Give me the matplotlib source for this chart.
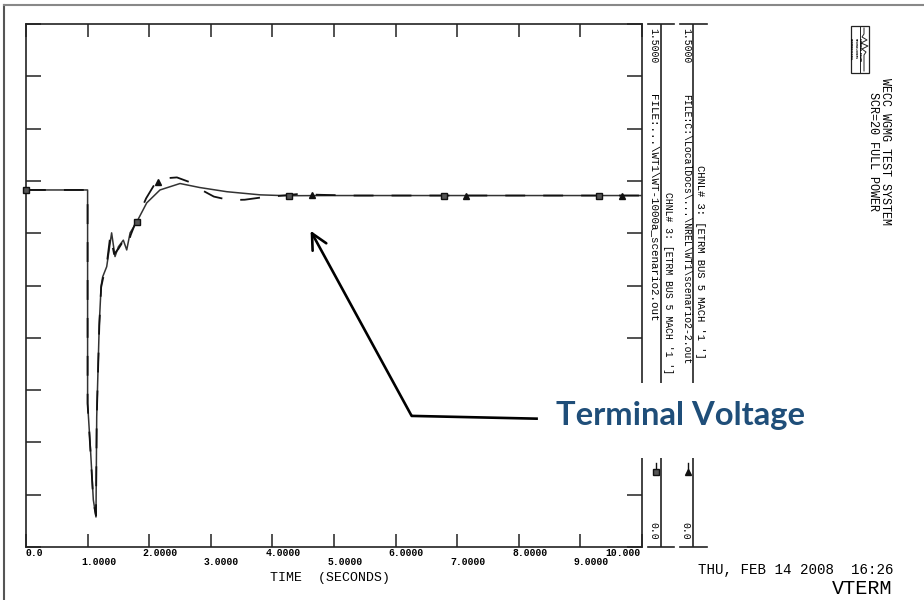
import numpy as np
import matplotlib.pyplot as plt
from matplotlib.lines import Line2D
from matplotlib.patches import Rectangle

## data ##
# solid trace (WT-1000a_scenario2.out), square markers
t_a = [0.0, 1.0, 1.0, 1.05, 1.093, 1.136, 1.148, 1.19, 1.22, 1.245, 1.31, 1.39, 1.445, 1.50,
       1.58, 1.635, 1.69, 1.80, 1.96, 2.175, 2.50, 2.82, 3.26, 3.80, 4.23, 5.0, 6.0, 7.0, 8.0, 9.0, 10.0]
v_a = [1.024, 1.024, 0.413, 0.27, 0.135, 0.086, 0.373, 0.642, 0.75, 0.775, 0.804, 0.901, 0.833, 0.861,
       0.880, 0.852, 0.901, 0.933, 0.987, 1.024, 1.0425, 1.031, 1.019, 1.010, 1.0075, 1.008, 1.008, 1.008, 1.008, 1.008, 1.008]
# dashed trace (scenario2-2.out), triangle markers
t_b = [0.0, 1.0, 1.0, 1.05, 1.093, 1.136, 1.148, 1.19, 1.22, 1.25, 1.31, 1.37, 1.43, 1.50, 1.57,
       1.64, 1.70, 1.80, 1.95, 2.10, 2.30, 2.45, 2.65, 2.85, 3.05, 3.30, 3.55, 3.80, 4.05, 4.40,
       4.80, 5.3, 6.0, 7.0, 8.0, 9.0, 10.0]
v_b = [1.024, 1.024, 0.41, 0.265, 0.13, 0.09, 0.37, 0.635, 0.745, 0.77, 0.81, 0.895, 0.84, 0.855, 0.875,
       0.86, 0.895, 0.94, 1.00, 1.044, 1.058, 1.060, 1.047, 1.024, 1.005, 0.995, 0.996, 1.002, 1.006, 1.012,
       1.010, 1.008, 1.008, 1.008, 1.008, 1.008, 1.008]
sq_t = [0.0, 1.8, 4.27, 6.79, 9.3]
tri_t = [2.15, 4.65, 7.15, 9.67]

x_ticks = [0, 1, 2, 3, 4, 5, 6, 7, 8, 9, 10]
x_labels = ["0.0", "1.0000", "2.0000", "3.0000", "4.0000", "5.0000",
            "6.0000", "7.0000", "8.0000", "9.0000", "10.000"]
files = ["FILE:...\\WT1\\WT-1000a_scenario2.out",
         "FILE:C:\\LocalDocs\\...\\NREL\\WT1\\scenario2-2.out"]
chnl = "CHNL# 3: [ETRM BUS 5 MACH '1 ']"

W, H = 924, 600
mono = "Liberation Mono"

def fx(x):
    return x / W

def fy(y):
    return 1 - y / H

fig = plt.figure(figsize=(W / 100, H / 100), dpi=100)

## main plot ##
ax = fig.add_axes([fx(26), fy(547), 616 / W, 523 / H])
ax.plot(t_a, v_a, color="#333333", lw=1.1, zorder=3)
lb, = ax.plot(t_b, v_b, color="#111111", lw=1.3, zorder=4)
lb.set_dashes((11, 10))
ax.plot(sq_t, np.interp(sq_t, t_a, v_a), ls="none", marker="s", ms=4,
        mfc="#555555", mec="#111111", mew=1, zorder=5, clip_on=False)
ax.plot(tri_t, np.interp(tri_t, t_b, v_b), ls="none", marker="^", ms=4.5,
        color="#111111", zorder=5, clip_on=False)

ax.set_xlim(0, 10)
ax.set_ylim(0, 1.5)
ax.set_xticks(x_ticks)
ax.set_yticks(np.linspace(0, 1.5, 11))
ax.tick_params(axis="x", direction="in", length=9.4, width=1.1, top=True, bottom=True,
               labelbottom=False, color="#222222")
ax.tick_params(axis="y", direction="in", length=11, width=1.1, left=True, right=True,
               labelleft=False, color="#222222")
for s in ax.spines.values():
    s.set_linewidth(1.2)
    s.set_color("#222222")

# staggered tick labels under the axis
tr = ax.get_xaxis_transform()
for t, lab in zip(x_ticks, x_labels):
    yy = -0.0115 if t % 2 == 0 else -0.0287
    if t == 0:
        ax.text(t, yy, lab, transform=tr, ha="left", va="center", family=mono,
                weight="bold", fontsize=7, clip_on=False)
    elif t == 10:
        ax.text(9.97, yy, lab, transform=tr, ha="right", va="center", family=mono,
                weight="bold", fontsize=7, clip_on=False)
    else:
        ax.text(t - 0.11, yy, lab, transform=tr, ha="left", va="center", family=mono,
                weight="bold", fontsize=7, clip_on=False)

fig.text(fx(330), fy(578), "TIME  (SECONDS)", ha="center", va="center",
         family=mono, fontsize=9.5)

# arrow to the trace
ax.plot([8.31, 6.26], [0.368, 0.376], color="black", lw=1.9, solid_capstyle="butt")
ax.annotate("", xy=(4.62, 0.907), xytext=(6.26, 0.376),
            arrowprops=dict(arrowstyle="->", lw=1.9, color="black",
                            mutation_scale=28, shrinkA=0, shrinkB=0))

## right hand channel scales ##
panels = [(647.7, 26.3, "s", 7.8), (680.0, 26.7, "^", 7)]
for (x0, w, mk, fsz), fname in zip(panels, files):
    pax = fig.add_axes([fx(x0), fy(547), w / W, 523 / H])
    pax.set_xlim(0, 1)
    pax.set_ylim(0, 1)
    pax.axis("off")
    pax.plot([0.5, 0.5], [0, 1], color="#222222", lw=1.2)
    pax.plot([0, 1], [1, 1], color="#222222", lw=1.2, clip_on=False)
    pax.plot([0, 1], [0, 0], color="#222222", lw=1.2, clip_on=False)
    pax.text(0.22, 0.992, "1.5000", rotation=-90, ha="center", va="top",
             family=mono, fontsize=7)
    pax.text(0.22, 0.0134, "0.0", rotation=-90, ha="center", va="bottom",
             family=mono, fontsize=7)
    pax.text(0.22, 0.866, fname, rotation=-90, ha="center", va="top",
             family=mono, fontsize=fsz)
    pax.plot([0.31, 0.31], [0.1434, 0.161], color="#111111", lw=1)
    pax.plot([0.31], [0.1434], marker=mk, ms=4, color="#111111",
             mfc="#555555" if mk == "s" else "#111111")

fig.text(fx(668), fy(192), chnl, rotation=-90, ha="center", va="top",
         family=mono, fontsize=7)
fig.text(fx(700), fy(165), chnl, rotation=-90, ha="center", va="top",
         family=mono, fontsize=7.6)

## title block top right ##
fig.add_artist(Rectangle((fx(851), fy(73)), 18 / W, 47 / H, transform=fig.transFigure,
                         fill=False, ec="#222222", lw=0.9))
fig.add_artist(Line2D([fx(860), fx(860)], [fy(26), fy(73)], color="#222222", lw=0.7))
sq_x = [864, 864, 862, 867, 861, 868, 862, 866, 864, 864]
sq_y = [28, 34, 37, 40, 43, 46, 49, 52, 55, 71]
fig.add_artist(Line2D([fx(v) for v in sq_x], [fy(v) for v in sq_y], color="#222222", lw=0.7))
fig.text(fx(855.5), fy(49), "SIEMENS POWER\nTECHNOLOGIES\nINTERNATIONAL", rotation=-90,
         ha="center", va="center", family=mono, fontsize=2.2, weight="bold")
fig.text(fx(879), fy(78), "WECC WGMG TEST SYSTEM\nSCR=20 FULL POWER", rotation=-90,
         ha="center", va="top", family=mono, fontsize=8.5, linespacing=1.1)

fig.text(fx(893), fy(570), "THU, FEB 14 2008  16:26", ha="right", va="center",
         family=mono, fontsize=10.2)
fig.text(fx(893), fy(588), "VTERM", ha="right", va="center",
         family=mono, fontsize=14.5)

## slide frame ##
fig.add_artist(Line2D([fx(4), fx(4)], [0, fy(5)], color="#555555", lw=1.5))
fig.add_artist(Line2D([fx(4), 1], [fy(5), fy(5)], color="#888888", lw=1.5))

## callout label ##
fig.add_artist(Rectangle((fx(545), fy(458)), 270 / W, 75 / H, transform=fig.transFigure,
                         fc="white", ec="none", zorder=5))
fig.text(fx(681), fy(416), "Terminal Voltage", ha="center", va="center",
         family="Lato", weight="bold", fontsize=23.6, color="#1F4E79", zorder=6)

fig.savefig("out.png", dpi=100, facecolor="white")
